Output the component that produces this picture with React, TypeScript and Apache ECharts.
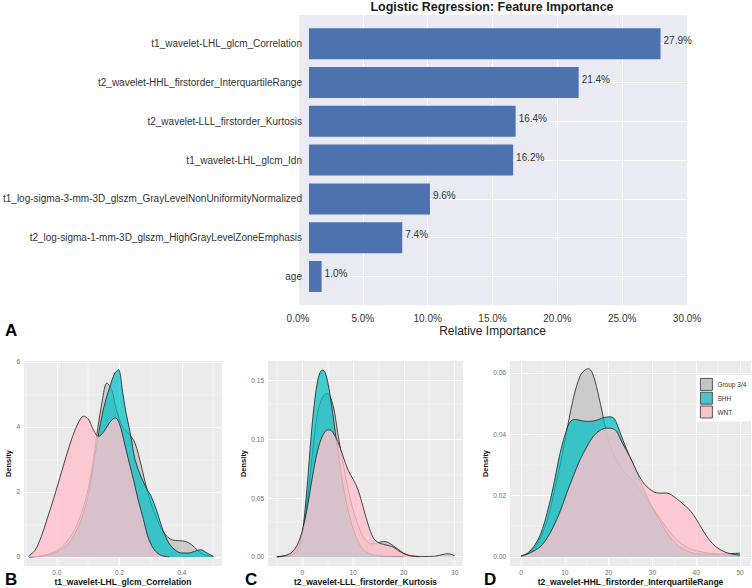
import React, { useEffect, useRef } from "react";
import * as echarts from "echarts";

// ---------- Panel A: feature importance ----------
const featureNames = [
  "t1_wavelet-LHL_glcm_Correlation",
  "t2_wavelet-HHL_firstorder_InterquartileRange",
  "t2_wavelet-LLL_firstorder_Kurtosis",
  "t1_wavelet-LHL_glcm_Idn",
  "t1_log-sigma-3-mm-3D_glszm_GrayLevelNonUniformityNormalized",
  "t2_log-sigma-1-mm-3D_glszm_HighGrayLevelZoneEmphasis",
  "age",
];
const importance = [27.9, 21.4, 16.4, 16.2, 9.6, 7.4, 1.0];

const groupNames = ["Group 3/4", "SHH", "WNT"];

// ---------- Panel B: t1_wavelet-LHL_glcm_Correlation ----------
const corrG34X = [-0.09, -0.06, -0.03, 0.0, 0.03, 0.06, 0.09, 0.11, 0.13, 0.145, 0.16, 0.175, 0.19, 0.21, 0.23, 0.25, 0.27, 0.29, 0.31, 0.33, 0.35, 0.37, 0.39, 0.41, 0.43, 0.45, 0.47, 0.5];
const corrG34Y = [0, 0.02, 0.08, 0.2, 0.45, 0.9, 1.7, 2.6, 3.9, 4.8, 5.35, 5.15, 4.55, 4.0, 3.8, 3.5, 2.8, 2.0, 1.4, 0.95, 0.65, 0.52, 0.5, 0.48, 0.38, 0.2, 0.07, 0.01];
const corrSHHX = [-0.09, -0.06, -0.03, 0.0, 0.03, 0.06, 0.09, 0.11, 0.13, 0.15, 0.17, 0.185, 0.197, 0.21, 0.22, 0.235, 0.25, 0.27, 0.29, 0.3, 0.32, 0.34, 0.36, 0.38, 0.4, 0.42, 0.44, 0.46, 0.48, 0.5];
const corrSHHY = [0, 0.01, 0.05, 0.15, 0.35, 0.75, 1.5, 2.4, 3.6, 4.6, 5.25, 5.65, 5.76, 5.1, 4.5, 3.8, 3.0, 2.45, 2.05, 1.9, 1.4, 0.8, 0.4, 0.2, 0.12, 0.12, 0.17, 0.22, 0.12, 0.02];
const corrWNTX = [-0.09, -0.07, -0.05, -0.03, -0.01, 0.01, 0.03, 0.05, 0.07, 0.085, 0.1, 0.115, 0.133, 0.15, 0.17, 0.187, 0.2, 0.215, 0.23, 0.245, 0.26, 0.277, 0.29, 0.304, 0.32, 0.335, 0.35, 0.36];
const corrWNTY = [0.03, 0.2, 0.62, 1.2, 1.8, 2.45, 3.1, 3.7, 4.15, 4.33, 4.25, 3.95, 3.71, 3.85, 4.15, 4.28, 4.1, 3.55, 2.95, 2.38, 1.75, 1.15, 0.65, 0.33, 0.13, 0.04, 0.01, 0.0];
const corrTicksX = [0, 0.2, 0.4];
const corrMinorX = [-0.1, 0.1, 0.3, 0.5];
const corrTicksY = [0, 2, 4, 6];
const corrMinorY = [1, 3, 5];

// ---------- Panel C: t2_wavelet-LLL_firstorder_Kurtosis ----------
const kurtG34X = [-5, -3, -2, -1, 0, 1, 2, 3, 4, 4.9, 6, 7, 8, 9, 10, 11, 12, 13, 14, 15, 16, 17, 18, 19, 20, 21, 22, 24, 26, 27, 28, 28.7, 29.5, 30];
const kurtG34Y = [0, 0.001, 0.003, 0.008, 0.02, 0.048, 0.088, 0.122, 0.136, 0.139, 0.13, 0.105, 0.08, 0.058, 0.04, 0.027, 0.017, 0.012, 0.011, 0.012, 0.013, 0.012, 0.009, 0.006, 0.003, 0.0012, 0.0005, 0.0002, 0.0004, 0.0012, 0.0022, 0.0026, 0.0018, 0.001];
const kurtSHHX = [-5, -3, -2, -1, 0, 0.5, 1, 1.5, 2, 2.5, 3, 3.5, 4, 4.5, 5, 5.5, 6, 7, 8, 9, 10, 11, 12, 13, 14, 16, 20];
const kurtSHHY = [0, 0.0005, 0.0015, 0.005, 0.02, 0.038, 0.062, 0.09, 0.115, 0.135, 0.149, 0.157, 0.159, 0.157, 0.149, 0.137, 0.122, 0.09, 0.062, 0.04, 0.024, 0.013, 0.006, 0.003, 0.0015, 0.0005, 0.0001];
const kurtWNTX = [-5, -4, -3, -2, -1, 0, 1, 2, 3, 4, 5, 5.4, 6, 7, 8, 9, 10, 11, 12, 13, 14, 15, 16, 17, 18, 19, 20, 21, 22, 23];
const kurtWNTY = [0, 0.0005, 0.0015, 0.004, 0.01, 0.022, 0.042, 0.068, 0.09, 0.103, 0.108, 0.108, 0.106, 0.098, 0.086, 0.074, 0.066, 0.057, 0.042, 0.027, 0.016, 0.012, 0.0105, 0.0095, 0.008, 0.005, 0.0025, 0.001, 0.0003, 0];
const kurtTicksX = [0, 10, 20, 30];
const kurtMinorX = [-5, 5, 15, 25];
const kurtTicksY = [0, 0.05, 0.1, 0.15];
const kurtMinorY = [0.025, 0.075, 0.125];

// ---------- Panel D: t2_wavelet-HHL_firstorder_InterquartileRange ----------
const iqrG34X = [0, 2, 4, 6, 8, 9.5, 10.8, 12, 13.5, 14.5, 15.4, 16.3, 17.5, 18.8, 20, 22, 24, 26, 28, 30, 32, 34, 36, 38, 40, 43, 46, 50];
const iqrG34Y = [0.0002, 0.0015, 0.005, 0.012, 0.024, 0.034, 0.0437, 0.052, 0.059, 0.0608, 0.0614, 0.06, 0.054, 0.0454, 0.038, 0.031, 0.027, 0.024, 0.02, 0.016, 0.012, 0.008, 0.005, 0.003, 0.002, 0.0012, 0.0008, 0.0004];
const iqrSHHX = [0, 1.5, 3, 4.5, 6, 7.4, 8.5, 9.3, 10.2, 11, 12, 13, 14.2, 15.4, 16.5, 17.7, 18.8, 20.3, 21.2, 22, 23.3, 24.8, 26, 28, 30, 32, 34, 36, 38, 40, 44, 47, 50];
const iqrSHHY = [0.0002, 0.0012, 0.0035, 0.0075, 0.0145, 0.023, 0.031, 0.036, 0.0405, 0.0435, 0.0448, 0.0447, 0.0443, 0.0442, 0.0443, 0.0448, 0.0454, 0.0457, 0.0452, 0.043, 0.038, 0.0328, 0.029, 0.022, 0.016, 0.011, 0.0065, 0.0035, 0.0018, 0.001, 0.0008, 0.001, 0.0012];
const iqrWNTX = [0, 2, 4.4, 6, 7.4, 9, 10.45, 12, 13.5, 15, 16.5, 18, 19.5, 21, 21.8, 23, 24.8, 26, 27.1, 28.5, 30.2, 31.5, 33.2, 35.5, 37, 38.5, 40, 41.5, 43, 44.5, 46, 47.6, 49, 50];
const iqrWNTY = [0.0002, 0.0012, 0.0033, 0.0062, 0.0098, 0.015, 0.0208, 0.0265, 0.0317, 0.0358, 0.0393, 0.0412, 0.042, 0.0418, 0.041, 0.0375, 0.0328, 0.0292, 0.026, 0.0232, 0.0213, 0.0208, 0.0208, 0.019, 0.0172, 0.0153, 0.0123, 0.0087, 0.0055, 0.0033, 0.0019, 0.0011, 0.0007, 0.0005];
const iqrTicksX = [0, 10, 20, 30, 40, 50];
const iqrMinorX = [5, 15, 25, 35, 45];
const iqrTicksY = [0, 0.02, 0.04, 0.06];
const iqrMinorY = [0.01, 0.03, 0.05];

// ---------- styling ----------
const FONT = "'Liberation Sans', Arial, Helvetica, sans-serif";
const fillColors = ["#bdbdbd", "#00bfc4", "#ffc0cb"];
const fillOpacity = [0.7, 0.72, 0.8];
const legendColors = ["#c4c4c4", "#4cc4c8", "#f7c3cc"];

const zip = (xs: number[], ys: number[]) => xs.map((x, i) => [x, ys[i]]);

function gridMarkLine(majX: number[], minX: number[], majY: number[], minY: number[]) {
  return {
    silent: true,
    symbol: "none",
    z: 1,
    animation: false,
    label: { show: false },
    emphasis: { disabled: true },
    lineStyle: { color: "#ffffff", type: "solid", width: 0.9 },
    data: [
      ...majX.map((v) => ({ xAxis: v, lineStyle: { color: "#ffffff", width: 0.9, type: "solid" } })),
      ...minX.map((v) => ({ xAxis: v, lineStyle: { color: "#ffffff", width: 0.45, type: "solid" } })),
      ...majY.map((v) => ({ yAxis: v, lineStyle: { color: "#ffffff", width: 0.9, type: "solid" } })),
      ...minY.map((v) => ({ yAxis: v, lineStyle: { color: "#ffffff", width: 0.45, type: "solid" } })),
    ],
  };
}

function density(name: string, xs: number[], ys: number[], idx: number, gi: number, markLine?: any) {
  const s: any = {
    type: "line",
    name,
    xAxisIndex: idx,
    yAxisIndex: idx,
    data: zip(xs, ys),
    showSymbol: false,
    symbol: "none",
    smooth: 0.35,
    silent: true,
    z: 2 + gi,
    itemStyle: { color: legendColors[gi] },
    lineStyle: { color: "#1e1e1e", width: 0.8 },
    areaStyle: { color: fillColors[gi], opacity: fillOpacity[gi] },
  };
  if (markLine) s.markLine = markLine;
  return s;
}

function densityAxes(gridIndex: number, min: number, max: number, ticks: number[], digits: number, name: string, isX: boolean, nameGap: number) {
  return {
    type: "value",
    gridIndex,
    min,
    max,
    axisLine: { show: false },
    splitLine: { show: false },
    axisTick: { show: true, length: 2, customValues: ticks, lineStyle: { color: "#555", width: 0.6 } },
    axisLabel: {
      customValues: ticks,
      fontSize: 6.5,
      color: "#6e6e6e",
      margin: isX ? 3 : 4,
      formatter: (v: number) => v.toFixed(digits),
    },
    name,
    nameLocation: "middle",
    nameGap,
    nameTextStyle: { fontSize: isX ? 8.5 : 7.5, fontWeight: "bold", color: "#111" },
  };
}

export default function App() {
  const ref = useRef<HTMLDivElement>(null);
  useEffect(() => {
    if (!ref.current) return;
    const chart = echarts.init(ref.current, undefined, { renderer: "svg" });
    const option: any = {
      animation: false,
      backgroundColor: "#ffffff",
      textStyle: { fontFamily: FONT },
      legend: {
        show: true,
        orient: "vertical",
        left: 697,
        top: 375,
        selectedMode: false,
        backgroundColor: "#ffffff",
        padding: [3, 5, 3, 3],
        itemGap: 1,
        itemWidth: 12,
        itemHeight: 12,
        textStyle: { fontSize: 6.5, color: "#333", fontFamily: FONT },
        data: groupNames.map((n, i) => ({
          name: n,
          icon: "rect",
          itemStyle: { color: legendColors[i], borderColor: "#333", borderWidth: 0.8, opacity: 1 },
          lineStyle: { width: 0, opacity: 0 },
        })),
      },
      grid: [
        { left: 298, top: 24.3, width: 389, height: 271.6, containLabel: false },
        { left: 298, top: 15, width: 389, height: 290, show: true, backgroundColor: "#eaeaf2", borderWidth: 0 },
        { left: 24, top: 361, width: 198, height: 205, show: true, backgroundColor: "#ebebeb", borderWidth: 0 },
        { left: 268, top: 361, width: 195, height: 205, show: true, backgroundColor: "#ebebeb", borderWidth: 0 },
        { left: 510, top: 361, width: 241, height: 205, show: true, backgroundColor: "#ebebeb", borderWidth: 0 },
      ],
      xAxis: [
        { type: "value", gridIndex: 0, min: 0, max: 30, show: false },
        {
          type: "value",
          gridIndex: 1,
          min: 0,
          max: 30,
          interval: 5,
          axisLine: { show: false },
          axisTick: { show: false },
          splitLine: { show: true, lineStyle: { color: "#ffffff", width: 1 } },
          axisLabel: { fontSize: 10, color: "#333", margin: 8, formatter: (v: number) => v.toFixed(1) + "%" },
          name: "Relative Importance",
          nameLocation: "middle",
          nameGap: 20,
          nameTextStyle: { fontSize: 12, color: "#222" },
        },
        densityAxes(2, -0.105, 0.528, corrTicksX, 1, "t1_wavelet-LHL_glcm_Correlation", true, 11.5),
        densityAxes(3, -6.75, 31.65, kurtTicksX, 0, "t2_wavelet-LLL_firstorder_Kurtosis", true, 11.5),
        densityAxes(4, -2.5, 52.5, iqrTicksX, 0, "t2_wavelet-HHL_firstorder_InterquartileRange", true, 11.5),
      ],
      yAxis: [
        {
          type: "category",
          gridIndex: 0,
          inverse: true,
          data: featureNames,
          axisLine: { show: false },
          axisTick: { show: false },
          splitLine: { show: false },
          axisLabel: { fontSize: 10, color: "#333", margin: 7 },
        },
        { type: "value", gridIndex: 1, min: 0, max: 1, show: false },
        densityAxes(2, -0.28, 6.03, corrTicksY, 0, "Density", false, 10),
        densityAxes(3, -0.0079, 0.1667, kurtTicksY, 2, "Density", false, 17),
        densityAxes(4, -0.003, 0.0639, iqrTicksY, 2, "Density", false, 17),
      ],
      series: [
        {
          type: "bar",
          name: "importance",
          xAxisIndex: 0,
          yAxisIndex: 0,
          data: importance,
          barWidth: 31,
          silent: true,
          z: 2,
          itemStyle: { color: "#4c72b0" },
          label: {
            show: true,
            position: "right",
            distance: 3,
            offset: [0, -3],
            fontSize: 10,
            color: "#333",
            formatter: (p: any) => Number(p.value).toFixed(1) + "%",
          },
          markLine: {
            silent: true,
            symbol: "none",
            z: 1,
            label: { show: false },
            emphasis: { disabled: true },
            lineStyle: { color: "#ffffff", width: 1, type: "solid" },
            data: featureNames.map((n) => ({ yAxis: n })),
          },
        },
        density(groupNames[0], corrG34X, corrG34Y, 2, 0, gridMarkLine(corrTicksX, corrMinorX, corrTicksY, corrMinorY)),
        density(groupNames[1], corrSHHX, corrSHHY, 2, 1),
        density(groupNames[2], corrWNTX, corrWNTY, 2, 2),
        density(groupNames[0], kurtG34X, kurtG34Y, 3, 0, gridMarkLine(kurtTicksX, kurtMinorX, kurtTicksY, kurtMinorY)),
        density(groupNames[1], kurtSHHX, kurtSHHY, 3, 1),
        density(groupNames[2], kurtWNTX, kurtWNTY, 3, 2),
        density(groupNames[0], iqrG34X, iqrG34Y, 4, 0, gridMarkLine(iqrTicksX, iqrMinorX, iqrTicksY, iqrMinorY)),
        density(groupNames[1], iqrSHHX, iqrSHHY, 4, 1),
        density(groupNames[2], iqrWNTX, iqrWNTY, 4, 2),
      ],
      graphic: [
        {
          type: "text",
          x: 492,
          y: 7,
          style: { text: "Logistic Regression: Feature Importance", font: `bold 12.5px ${FONT}`, fill: "#1a1a1a", align: "center", verticalAlign: "middle" },
        },
        { type: "text", x: 5, y: 330, style: { text: "A", font: `bold 17px ${FONT}`, fill: "#000", verticalAlign: "middle" } },
        { type: "text", x: 5, y: 579, style: { text: "B", font: `bold 17px ${FONT}`, fill: "#000", verticalAlign: "middle" } },
        { type: "text", x: 245, y: 579, style: { text: "C", font: `bold 17px ${FONT}`, fill: "#000", verticalAlign: "middle" } },
        { type: "text", x: 484, y: 579, style: { text: "D", font: `bold 17px ${FONT}`, fill: "#000", verticalAlign: "middle" } },
      ],
    };
    chart.setOption(option);
    return () => chart.dispose();
  }, []);
  return <div ref={ref} style={{ position: "absolute", left: 0, top: 0, width: 752, height: 588 }} />;
}
